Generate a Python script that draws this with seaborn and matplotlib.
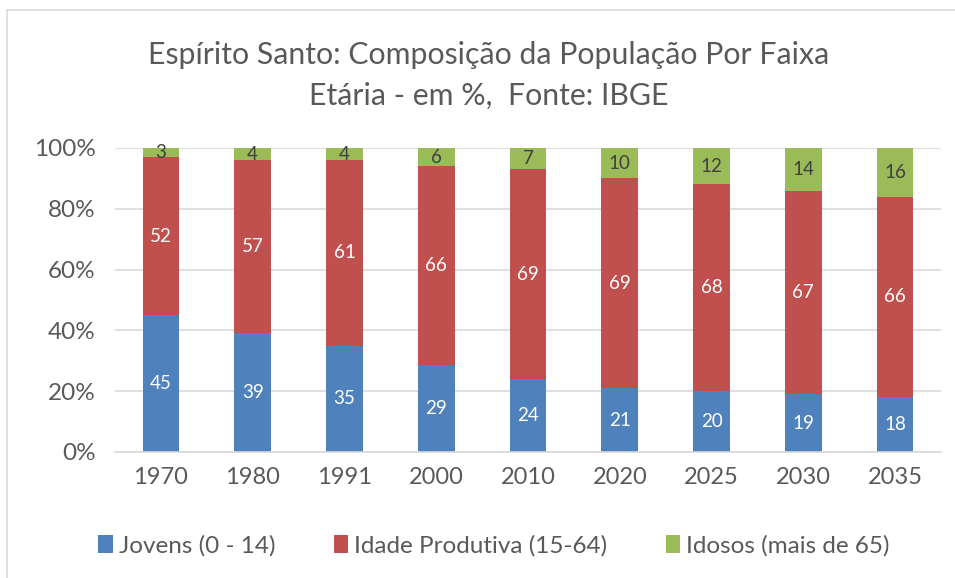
import matplotlib
matplotlib.use("Agg")
import matplotlib.pyplot as plt
from matplotlib.patches import Patch, Rectangle
import numpy as np
import pandas as pd
import seaborn as sns

years = ["1970", "1980", "1991", "2000", "2010", "2020", "2025", "2030", "2035"]
jovens = [45, 39, 35, 29, 24, 21, 20, 19, 18]
produtiva = [52, 57, 61, 66, 69, 69, 68, 67, 66]
idosos = [3, 4, 4, 6, 7, 10, 12, 14, 16]
series_names = ["Jovens (0 - 14)", "Idade Produtiva (15-64)", "Idosos (mais de 65)"]
colors = ["#4F81BD", "#C0504D", "#9BBB59"]
title = "Espírito Santo: Composição da População Por Faixa\nEtária - em %,  Fonte: IBGE"

sns.set_theme(style="white")
plt.rcParams["font.family"] = ["Lato", "DejaVu Sans"]

# 100% stacked shares
raw = np.array([jovens, produtiva, idosos], dtype=float)
shares = raw / raw.sum(axis=0) * 100

fig = plt.figure(figsize=(9.55, 5.78), dpi=100)
ax = fig.add_axes([115 / 955, 1 - 452 / 578, (941 - 115) / 955, (452 - 148) / 578])

bottom = np.zeros(len(years))
for i, name in enumerate(series_names):
    df = pd.DataFrame({"ano": years, "valor": shares[i]})
    sns.barplot(data=df, x="ano", y="valor", color=colors[i], bottom=bottom,
                width=0.4, ax=ax, saturation=1, linewidth=0)
    for j in range(len(years)):
        yc = bottom[j] + shares[i][j] / 2
        ax.text(j, yc, f"{raw[i][j]:.0f}", ha="center", va="center", fontsize=13.5,
                color="#404040" if i == 2 else "white")
    bottom = bottom + shares[i]

ax.set_ylim(0, 100)
ax.set_xlim(-0.5, len(years) - 0.5)
ax.set_yticks(range(0, 101, 20))
ax.set_yticklabels([f"{v}%" for v in range(0, 101, 20)])
ax.yaxis.grid(True, color="#D9D9D9", linewidth=1.2)
ax.set_axisbelow(True)
for s in ["top", "right", "left"]:
    ax.spines[s].set_visible(False)
ax.spines["bottom"].set_color("#D9D9D9")
ax.spines["bottom"].set_linewidth(1.2)
ax.tick_params(axis="y", length=0, labelsize=17.5, colors="#595959", pad=14)
ax.tick_params(axis="x", length=0, labelsize=17, colors="#595959", pad=11)
ax.set_xlabel("")
ax.set_ylabel("")

fig.text(489 / 955, 1 - 75 / 578, title, ha="center", va="center", fontsize=21.8,
         color="#595959", linespacing=1.55)

handles = [Patch(facecolor=c, edgecolor="none") for c in colors]
fig.legend(handles, series_names, loc="center", bbox_to_anchor=(494 / 955, 1 - 546 / 578),
           ncol=3, frameon=False, fontsize=17.5, handlelength=0.6, handleheight=0.75,
           handletextpad=0.25, columnspacing=2.4, labelcolor="#595959")

# chart border
fig.patches.append(Rectangle((7 / 955, -0.01), 1.0, 1 - 10 / 578 + 0.01, transform=fig.transFigure,
                             fill=False, edgecolor="#D9D9D9", linewidth=1.2))

fig.savefig("out.png", dpi=100)
